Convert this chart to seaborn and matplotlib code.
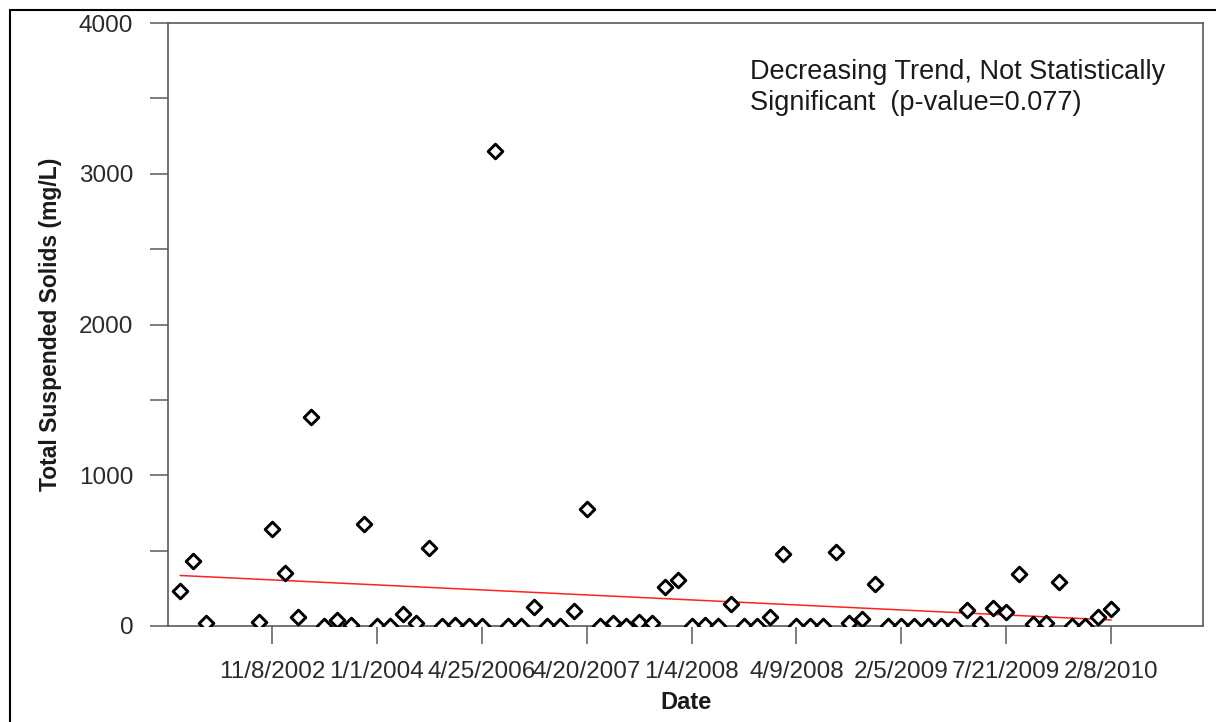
import numpy as np
import pandas as pd
import matplotlib
matplotlib.use("Agg")
import matplotlib.pyplot as plt
from matplotlib.lines import Line2D
from matplotlib.ticker import MultipleLocator, FixedLocator
import seaborn as sns

# Total suspended solids per sampling event (mg/L); NaN = no sample recorded
tss_values = [
    234, 433, 22, np.nan, np.nan, np.nan, 29, 645, 350, 58,
    1389, 0, 40, 5, 677, 0, 0, 78, 18, 520,
    3, 7, 0, 0, 3150, 3, 3, 124, 3, 0,
    100, 778, 3, 22, 0, 27, 22, 261, 305, 3,
    4, 3, 146, 0, 3, 62, 475, 0, 0, 3,
    489, 22, 49, 279, 0, 0, 0, 0, 0, 3,
    106, 11, 117, 91, 345, 13, 22, 290, 3, 0,
    58, 111,
]
sample_index = list(range(len(tss_values)))

# Date labels shown on the x axis and the sample they sit under
date_labels = ["11/8/2002", "1/1/2004", "4/25/2006", "4/20/2007", "1/4/2008",
               "4/9/2008", "2/5/2009", "7/21/2009", "2/8/2010"]
date_label_index = [7, 15, 23, 31, 39, 47, 55, 63, 71]

# Trend line end values (mg/L) at the first and last sample
trend_index = [0, 71]
trend_values = [335, 40]

sns.set_style("white")
plt.rcParams["font.family"] = ["Liberation Sans", "DejaVu Sans"]

df = pd.DataFrame({"idx": sample_index, "tss": tss_values}).dropna()
trend_df = pd.DataFrame({"idx": trend_index, "tss": trend_values})

fig = plt.figure(figsize=(12.16, 7.22), dpi=100)
ax = fig.add_axes([168 / 1216, 1 - 626 / 722, (1203 - 168) / 1216, (626 - 23) / 722])

sns.lineplot(data=trend_df, x="idx", y="tss", ax=ax, color="#ff2020",
             linewidth=1.1, zorder=2)
sns.scatterplot(data=df, x="idx", y="tss", ax=ax, marker="D", s=56,
                facecolor="white", edgecolor="black", linewidth=2.1, zorder=3)

ax.set_xlim(-0.92, 78.0)
ax.set_ylim(0, 4000)

ax.yaxis.set_major_locator(MultipleLocator(1000))
ax.yaxis.set_minor_locator(MultipleLocator(500))
ax.xaxis.set_major_locator(FixedLocator(date_label_index))
ax.set_xticklabels(date_labels)

spine_color = "#5a5a5a"
for sp in ax.spines.values():
    sp.set_color(spine_color)
    sp.set_linewidth(1.2)

ax.tick_params(axis="both", which="both", direction="out", length=13,
               width=1.1, color=spine_color, labelcolor="#2a2a2a",
               labelsize=17.5, pad=12)
ax.tick_params(axis="y", which="both", left=True)
ax.tick_params(axis="x", which="major", bottom=True)
ax.tick_params(axis="x", which="minor", bottom=False)

ax.set_xlabel("Date", fontsize=17, fontweight="bold", color="#1a1a1a", labelpad=6)
ax.set_ylabel("Total Suspended Solids (mg/L)", fontsize=16.5, fontweight="bold",
              color="#1a1a1a", labelpad=12)

ax.text(0.562, 0.941,
        "Decreasing Trend, Not Statistically\nSignificant  (p-value=0.077)",
        transform=ax.transAxes, ha="left", va="top", fontsize=19.5,
        color="#1a1a1a", linespacing=1.25)

# Page frame around the figure
fig.add_artist(Line2D([10 / 1216, 10 / 1216], [0, 1 - 10 / 722],
                      transform=fig.transFigure, color="black", linewidth=1.5))
fig.add_artist(Line2D([10 / 1216, 1], [1 - 10 / 722, 1 - 10 / 722],
                      transform=fig.transFigure, color="black", linewidth=1.5))

fig.savefig("out.png", dpi=100)
